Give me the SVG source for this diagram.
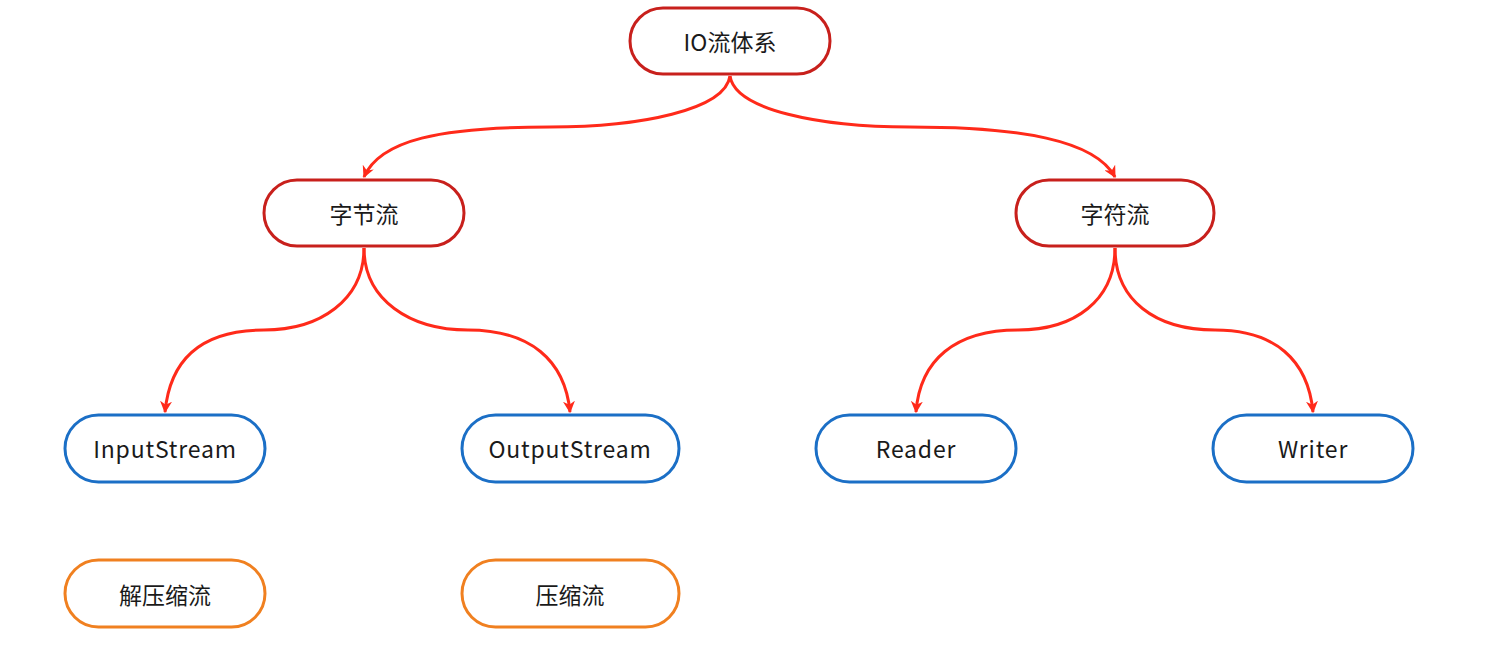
<svg xmlns="http://www.w3.org/2000/svg" width="1502" height="645" viewBox="0 0 1502 645">
<defs>
<style>
.n rect{fill:#fff;stroke-width:3}
.red rect{stroke:#c8201c}
.blue rect{stroke:#1b6fc6}
.orange rect{stroke:#f08020}
.n text{font-family:"Noto Sans CJK SC","Microsoft YaHei",sans-serif;font-size:23px;fill:#1a1a1a;text-anchor:middle;dominant-baseline:central}
.n text.lat{letter-spacing:0.8px}
.e path{fill:none;stroke:#ff2a1a;stroke-width:3;marker-end:url(#ah)}
</style>
<marker id="ah" viewBox="0 0 10 10" refX="9" refY="5" markerWidth="4" markerHeight="4" orient="auto" markerUnits="strokeWidth">
<path d="M0,0 L10,5 L0,10 L3,5 Z" fill="#ff2a1a"/>
</marker>
</defs>
<g id="edges" class="e">
<path d="M730,76 C725,110 640,127 550,127 C440,127 380,140 364,177"/>
<path d="M730,76 C735,110 820,127 910,127 C1020,127 1095,140 1115,177"/>
<path d="M364,248 C364,300 320,330 264,330 C200,330 170,360 165,412"/>
<path d="M364,248 C364,300 410,330 468,330 C530,330 565,360 570,412"/>
<path d="M1115,248 C1115,300 1075,330 1018,330 C955,330 920,360 916,412"/>
<path d="M1115,248 C1115,300 1155,330 1215,330 C1275,330 1308,360 1313,412"/>
</g>
<g id="n-io" class="n red"><rect x="630" y="8" width="200" height="66" rx="33"/><text x="730" y="41">IO流体系</text></g>
<g id="n-byte" class="n red"><rect x="264" y="180" width="200" height="66" rx="33"/><text x="364" y="213">字节流</text></g>
<g id="n-char" class="n red"><rect x="1016" y="180" width="198" height="66" rx="33"/><text x="1115" y="213">字符流</text></g>
<g id="n-in" class="n blue"><rect x="65" y="415" width="200" height="67" rx="33.5"/><text class="lat" x="165" y="448">InputStream</text></g>
<g id="n-out" class="n blue"><rect x="462" y="415" width="217" height="67" rx="33.5"/><text class="lat" x="570" y="448">OutputStream</text></g>
<g id="n-reader" class="n blue"><rect x="816" y="415" width="200" height="67" rx="33.5"/><text class="lat" x="916" y="448">Reader</text></g>
<g id="n-writer" class="n blue"><rect x="1213" y="415" width="200" height="67" rx="33.5"/><text class="lat" x="1313" y="448">Writer</text></g>
<g id="n-unzip" class="n orange"><rect x="65" y="560" width="200" height="67" rx="33.5"/><text x="165" y="594">解压缩流</text></g>
<g id="n-zip" class="n orange"><rect x="462" y="560" width="217" height="67" rx="33.5"/><text x="570" y="594">压缩流</text></g>
</svg>
